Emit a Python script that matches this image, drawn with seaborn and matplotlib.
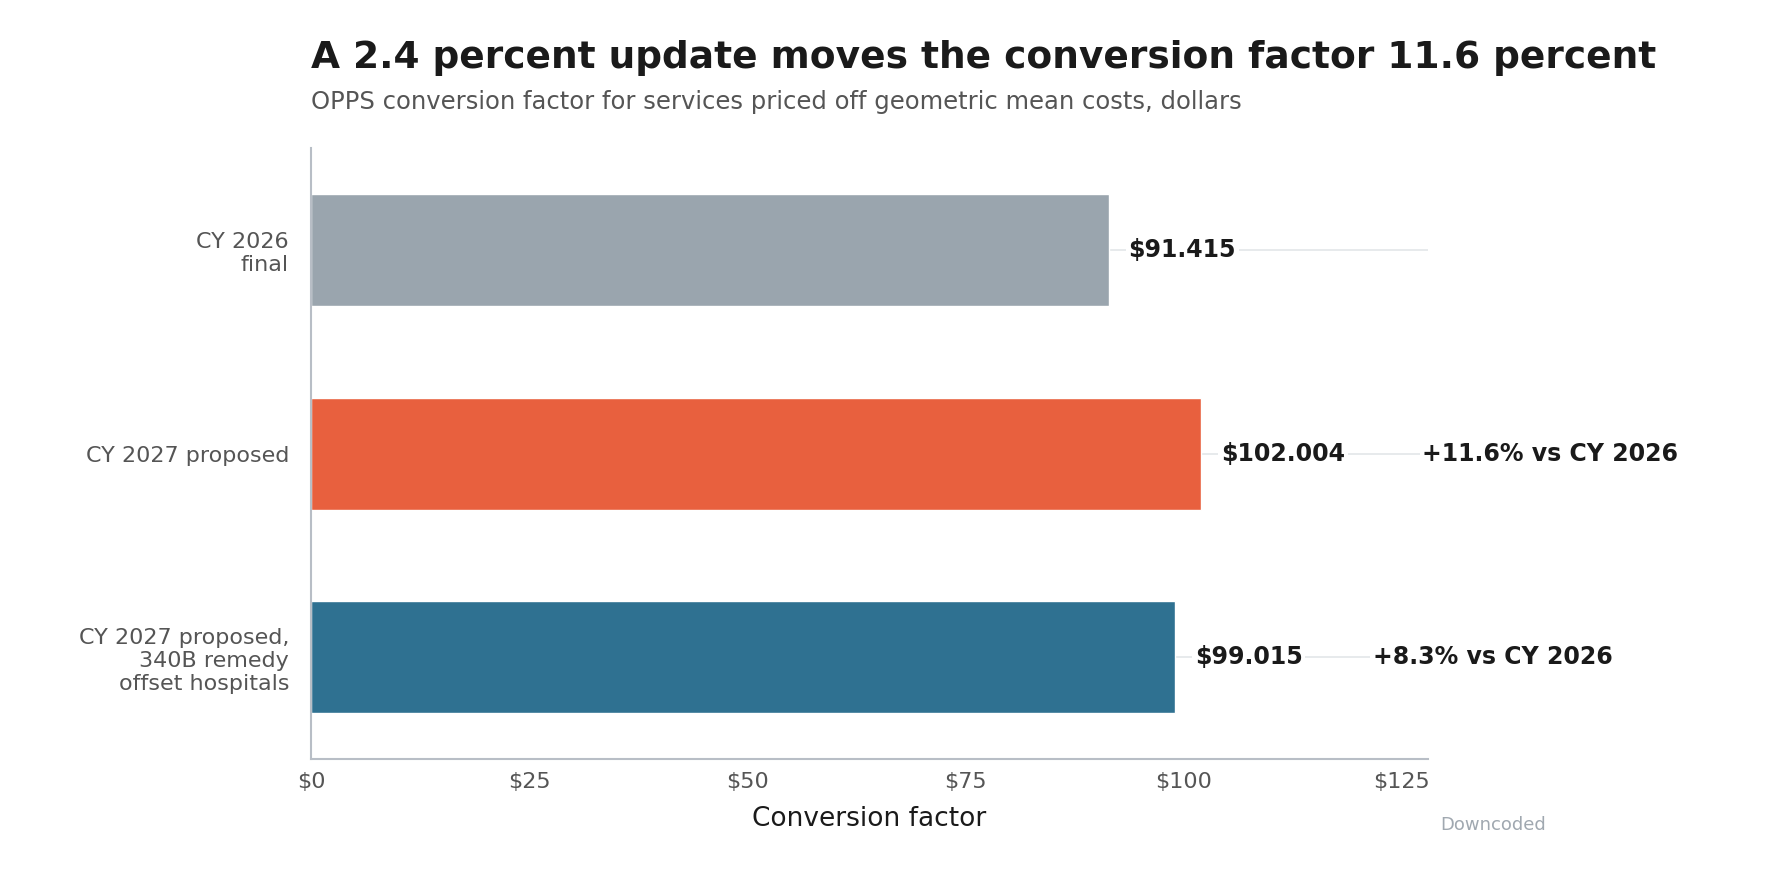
import matplotlib
matplotlib.use("Agg")
import matplotlib.pyplot as plt
import seaborn as sns
import pandas as pd

categories = ["CY 2026\nfinal", "CY 2027 proposed", "CY 2027 proposed,\n340B remedy\noffset hospitals"]
values = [91.415, 102.004, 99.015]
value_labels = ["$91.415", "$102.004", "$99.015"]
change_labels = ["", "+11.6% vs CY 2026", "+8.3% vs CY 2026"]
colors = ["#9aa5ae", "#e8603e", "#2f7191"]
xticks = [0, 25, 50, 75, 100, 125]
xticklabels = ["$0", "$25", "$50", "$75", "$100", "$125"]

sns.set_style("white")
plt.rcParams['font.family'] = ['DejaVu Sans']

df = pd.DataFrame({"cat": categories, "val": values})
fig = plt.figure(figsize=(17.89, 8.89), dpi=100)
ax = fig.add_axes([0.174, 0.146, 0.624, 0.687])
for i in range(len(values)):
    ax.axhline(i, color="#e3e6e9", lw=1.2, zorder=0)
sns.barplot(data=df, x="val", y="cat", hue="cat", palette=colors, legend=False,
            width=0.55, ax=ax, zorder=2, saturation=1)
ax.set_xlim(0, 128)
ax.set_xticks(xticks)
ax.set_xticklabels(xticklabels)
ax.tick_params(axis="x", labelsize=16, colors="#555555", length=6, color="#b8bec6")
ax.tick_params(axis="y", labelsize=16, colors="#555555", length=0, pad=16)
for lab in ax.get_yticklabels():
    lab.set_horizontalalignment("right")
ax.set_ylabel("")
ax.set_xlabel("Conversion factor", fontsize=19, color="#1a1a1a", labelpad=10)
for s in ["top", "right"]:
    ax.spines[s].set_visible(False)
for s in ["left", "bottom"]:
    ax.spines[s].set_color("#b8bec6")
    ax.spines[s].set_linewidth(1.5)

for i, v in enumerate(values):
    t = ax.text(v + 2.3, i, value_labels[i], va="center", ha="left", fontsize=17,
                fontweight="bold", color="#1a1a1a", zorder=3)
    t.set_bbox(dict(facecolor="white", edgecolor="none", pad=2))
    if change_labels[i]:
        ax.annotate(change_labels[i], xy=(v + 2.3, i), xycoords="data",
                    xytext=(145 if i == 1 else 128, 0), textcoords="offset points",
                    va="center", ha="left", fontsize=17, fontweight="bold", color="#1a1a1a",
                    bbox=dict(facecolor="white", edgecolor="none", pad=2), zorder=3)

fig.text(0.174, 0.935, "A 2.4 percent update moves the conversion factor 11.6 percent",
         fontsize=27, fontweight="bold", color="#1a1a1a", ha="left", va="center")
fig.text(0.174, 0.885, "OPPS conversion factor for services priced off geometric mean costs, dollars",
         fontsize=17.5, color="#555555", ha="left", va="center")
fig.text(0.805, 0.072, "Downcoded", fontsize=13, color="#a0a8b0", ha="left", va="center")
fig.savefig("out.png", dpi=100)
